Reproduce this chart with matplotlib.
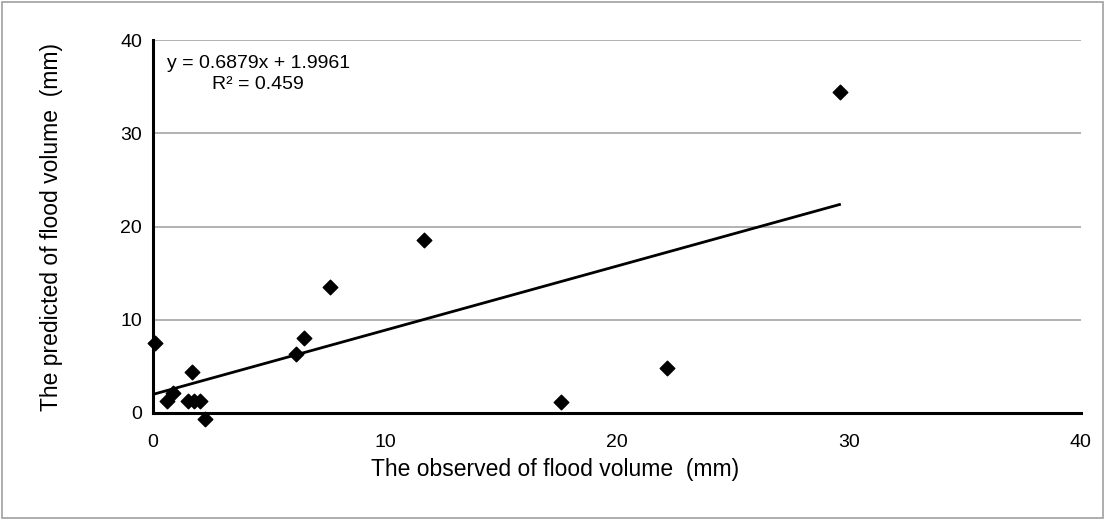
import numpy as np
import matplotlib.pyplot as plt
from matplotlib.patches import Rectangle

# valores
observed = [0.07, 0.6, 0.86, 1.66, 1.52, 1.78, 2.04, 2.26, 6.17, 6.52, 7.63, 11.68, 17.6, 22.17, 29.6]
predicted = [7.54, 1.32, 2.18, 4.42, 1.32, 1.32, 1.32, -0.6, 6.29, 8.07, 13.5, 18.6, 1.21, 4.85, 34.4]

slope = 0.6879
intercept = 1.9961
r2 = 0.459

x_ticks = [0, 10, 20, 30, 40]
y_ticks = [0, 10, 20, 30, 40]


def plot_graphic(x, y):
    plt.rcParams['font.family'] = ['Liberation Sans', 'DejaVu Sans']
    fig = plt.figure(figsize=(11.05, 5.2), dpi=100)
    ax = fig.add_axes([0.1385, 0.2058, 0.8395, 0.7172])

    # borda externa cinza
    fig.patches.append(Rectangle((0.002, 0.004), 0.996, 0.992, transform=fig.transFigure,
                                 fill=False, edgecolor='#a0a0a0', linewidth=1.2))

    for t in y_ticks[1:]:
        ax.axhline(t, color='#a6a6a6', linewidth=1.2, zorder=1)

    ax.scatter(x, y, marker='D', s=55, color='black', zorder=3, clip_on=False)

    x_line = np.array([0, max(x)])
    ax.plot(x_line, slope * x_line + intercept, color='black', linewidth=2, zorder=2)

    ax.set_xlim(0, 40)
    ax.set_ylim(0, 40)
    ax.set_xticks(x_ticks)
    ax.set_yticks(y_ticks)
    ax.tick_params(labelsize=14, length=0)
    ax.tick_params(axis='x', pad=15)
    ax.tick_params(axis='y', pad=8)

    for s in ['top', 'right']:
        ax.spines[s].set_visible(False)
    for s in ['left', 'bottom']:
        ax.spines[s].set_linewidth(2.2)

    ax.set_xlabel('The observed of flood volume  (mm)', fontsize=16.5)
    ax.xaxis.set_label_coords(0.433, -0.12)
    ax.set_ylabel('The predicted of flood volume  (mm)', fontsize=16.5, labelpad=41)

    ax.text(0.6, 37.5, 'y = %.4fx + %.4f' % (slope, intercept), fontsize=14, va='center')
    ax.text(4.5, 35.2, 'R² = %.3f' % r2, fontsize=14, ha='center', va='center')

    fig.savefig('out.png', dpi=100)


def main():
    plot_graphic(observed, predicted)


if __name__ == '__main__':
    main()
